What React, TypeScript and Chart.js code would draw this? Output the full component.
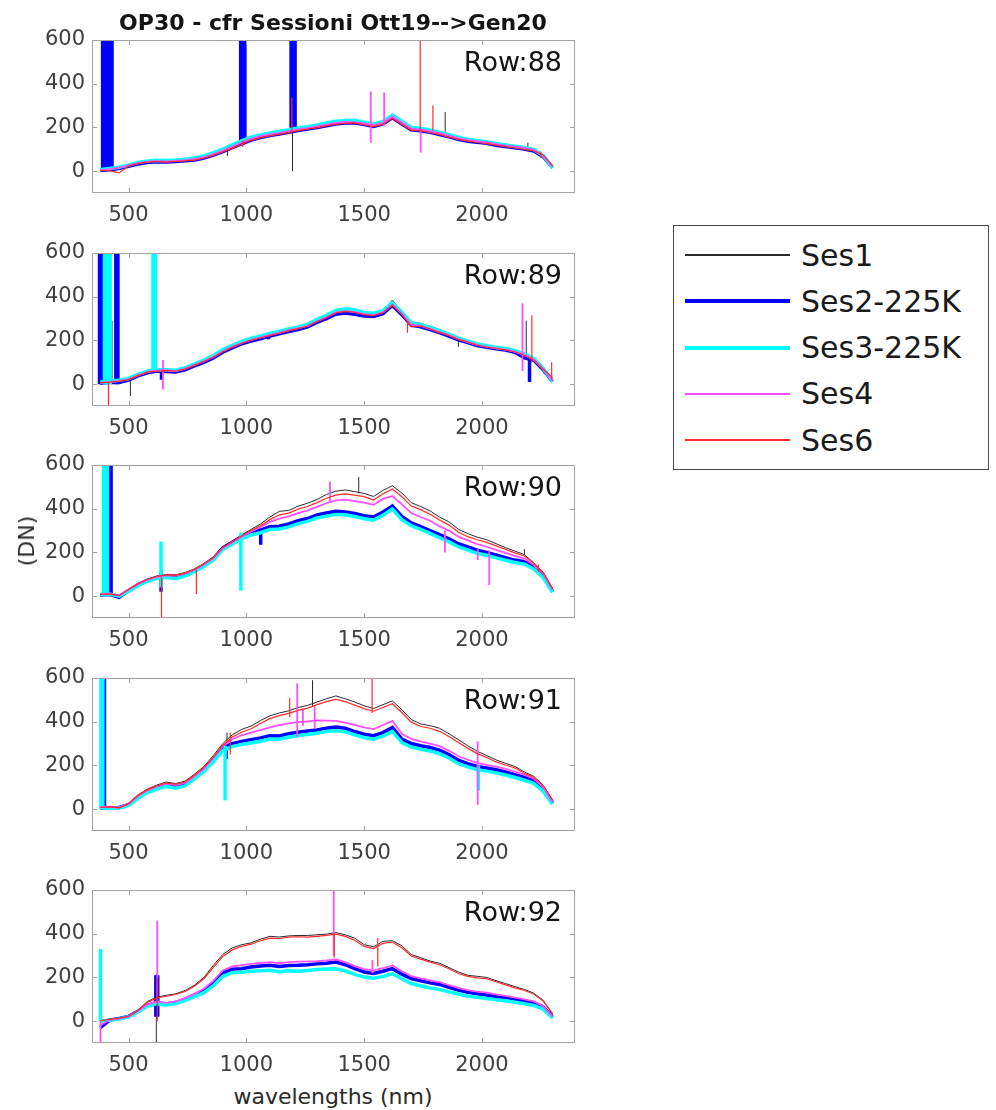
import React, { useEffect, useRef } from "react";
import { Chart, registerables } from "chart.js";

Chart.register(...registerables);

// ---------- data ----------
const WAVELENGTHS = [
  380, 420, 460, 500, 540, 580, 620, 660, 700, 740, 780, 820, 860, 900, 940, 980, 1020, 1060, 1100, 1140,
  1180, 1220, 1260, 1300, 1340, 1380, 1420, 1460, 1500, 1540, 1580, 1620, 1660, 1700, 1740, 1780, 1820, 1860,
  1900, 1940, 1980, 2020, 2060, 2100, 2140, 2180, 2220, 2260, 2300,
];
const SERIES_NAMES = ["Ses1", "Ses2-225K", "Ses3-225K", "Ses4", "Ses6"];
const ROW_LABELS = ["Row:88", "Row:89", "Row:90", "Row:91", "Row:92"];
const X_TICKS = [500, 1000, 1500, 2000];
const Y_TICKS = [0, 200, 400, 600];
const X_MIN = 345;
const X_MAX = 2395;
const Y_MIN = -100;
const Y_MAX = 600;
const TITLE = "OP30 - cfr Sessioni Ott19-->Gen20";
const X_LABEL = "wavelengths (nm)";
const Y_LABEL = "(DN)";

// Row 88
const R88_SES1 = [6, 10, 14, 24, 36, 42, 45, 43, 46, 49, 53, 63, 76, 92, 110, 128, 146, 157, 166, 172, 181, 189, 195, 203, 211, 219, 223, 225, 217, 208, 219, 248, 220, 193, 189, 181, 172, 160, 149, 140, 135, 130, 121, 116, 110, 104, 95, 70, 20];
const R88_SES2 = [4, 8, 12, 22, 33, 40, 43, 42, 44, 47, 51, 60, 73, 89, 107, 125, 142, 154, 163, 170, 178, 186, 193, 200, 208, 216, 220, 221, 213, 205, 216, 244, 216, 189, 185, 178, 168, 157, 146, 137, 132, 127, 118, 113, 107, 101, 92, 66, 16];
const R88_SES3 = [8, 12, 18, 28, 40, 47, 50, 49, 51, 55, 60, 71, 85, 101, 120, 138, 155, 166, 175, 181, 189, 197, 203, 211, 220, 228, 232, 233, 224, 215, 227, 256, 228, 200, 196, 188, 178, 167, 155, 146, 140, 135, 126, 120, 114, 108, 99, 72, 15];
const R88_SES4 = [5, 9, 16, 26, 37, 44, 46, 45, 47, 50, 55, 64, 78, 94, 112, 131, 148, 160, 168, 175, 183, 191, 197, 205, 213, 221, 225, 224, 218, 210, 222, 250, 222, 194, 190, 183, 174, 162, 151, 142, 137, 131, 123, 117, 112, 106, 97, 71, 19];
const R88_SES6 = [3, 2, -8, 23, 34, 41, 44, 41, 45, 47, 50, 59, 72, 88, 104, 122, 141, 152, 161, 168, 176, 185, 192, 198, 207, 214, 219, 221, 212, 204, 214, 242, 214, 188, 184, 176, 167, 156, 145, 137, 131, 126, 119, 112, 106, 100, 92, 74, 24];
// spikes: [series index, wavelength, low, high]
const R88_SPIKES = [
  [1, 390, 0, 800], [1, 398, 0, 800], [1, 406, 0, 800], [1, 414, 0, 800], [1, 422, 0, 800], [1, 430, 0, 800],
  [1, 976, 140, 800], [1, 985, 140, 800], [1, 994, 140, 800],
  [1, 1190, 185, 800], [1, 1199, 185, 800], [1, 1207, 185, 800],
  [0, 1196, 0, 205], [4, 1193, 185, 335], [0, 920, 70, 100], [4, 985, 110, 140],
  [3, 1528, 130, 365], [3, 1585, 205, 360], [4, 1738, 190, 800], [3, 1740, 85, 200],
  [4, 1792, 185, 300], [0, 1844, 180, 270], [0, 2195, 95, 130], [4, 2250, 60, 90],
];

// Row 89
const R89_SES1 = [8, 12, 14, 20, 42, 56, 64, 63, 60, 72, 90, 106, 127, 152, 174, 190, 205, 214, 228, 236, 250, 258, 270, 292, 310, 333, 340, 336, 325, 322, 334, 385, 330, 285, 278, 264, 250, 232, 212, 200, 186, 178, 170, 164, 155, 140, 118, 72, 14];
const R89_SES2 = [5, 8, 8, 18, 38, 52, 60, 58, 56, 66, 84, 100, 120, 146, 166, 184, 197, 208, 220, 230, 241, 250, 262, 282, 300, 320, 325, 320, 312, 310, 322, 360, 318, 270, 262, 250, 236, 220, 203, 190, 177, 169, 162, 156, 146, 120, 110, 66, 12];
const R89_SES3 = [10, 14, 18, 26, 45, 60, 66, 66, 64, 75, 93, 110, 131, 158, 178, 196, 209, 220, 232, 242, 253, 262, 274, 296, 315, 337, 344, 340, 328, 325, 336, 372, 330, 280, 272, 260, 245, 229, 212, 197, 184, 176, 168, 163, 153, 138, 118, 72, 13];
const R89_SES4 = [7, 10, 15, 22, 40, 56, 62, 64, 60, 71, 88, 105, 124, 150, 171, 188, 202, 214, 225, 235, 247, 256, 266, 288, 306, 328, 334, 330, 320, 316, 328, 364, 322, 272, 266, 253, 238, 224, 206, 192, 180, 171, 164, 158, 149, 134, 112, 70, 16];
const R89_SES6 = [6, 9, 13, 21, 39, 54, 60, 62, 59, 69, 86, 103, 122, 148, 168, 186, 200, 211, 222, 233, 244, 254, 265, 286, 304, 326, 333, 329, 318, 314, 327, 362, 320, 262, 266, 252, 237, 222, 205, 192, 178, 170, 163, 157, 147, 132, 110, 68, 30];
const R89_SPIKES = [
  [1, 377, 0, 800], [1, 386, 0, 800], [2, 398, 0, 800], [2, 406, 0, 800], [2, 414, 0, 800], [2, 422, 0, 800],
  [1, 446, 0, 800], [1, 455, 0, 800], [2, 604, 60, 800], [2, 614, 60, 800],
  [4, 415, -110, 10], [0, 430, 0, 290], [0, 508, -55, 20], [3, 646, -25, 110], [1, 640, 20, 60],
  [1, 1094, 205, 230], [4, 1684, 235, 290], [0, 1900, 170, 215],
  [3, 2172, 60, 370], [0, 2188, 140, 290], [1, 2202, 10, 130], [4, 2212, 100, 315], [4, 2296, 20, 100],
];

// Row 90
const R90_SES1 = [10, 12, 5, 32, 58, 78, 92, 99, 98, 108, 125, 150, 180, 228, 252, 280, 305, 330, 362, 388, 392, 412, 425, 442, 465, 480, 486, 478, 470, 456, 484, 505, 472, 428, 410, 390, 362, 340, 306, 286, 270, 258, 240, 222, 206, 190, 152, 110, 35];
const R90_SES2 = [5, 8, -5, 25, 52, 72, 85, 90, 82, 95, 115, 140, 170, 220, 245, 272, 290, 302, 318, 320, 330, 345, 355, 372, 380, 388, 385, 378, 368, 362, 385, 412, 365, 335, 318, 300, 282, 262, 240, 225, 210, 200, 188, 176, 165, 158, 135, 95, 22];
const R90_SES3 = [8, 10, 0, 22, 48, 68, 82, 86, 80, 92, 112, 136, 166, 214, 238, 262, 280, 290, 305, 307, 317, 332, 342, 358, 366, 374, 372, 364, 354, 348, 370, 398, 350, 322, 305, 287, 268, 248, 226, 211, 196, 187, 175, 164, 154, 146, 124, 85, 18];
const R90_SES4 = [9, 11, 4, 30, 55, 75, 88, 95, 94, 104, 120, 145, 174, 220, 246, 272, 296, 316, 340, 355, 365, 380, 392, 408, 425, 438, 442, 435, 428, 418, 445, 458, 420, 380, 362, 345, 320, 300, 272, 255, 238, 226, 212, 198, 184, 172, 142, 102, 30];
const R90_SES6 = [8, 10, 2, 30, 56, 76, 90, 97, 95, 105, 122, 146, 176, 222, 248, 275, 300, 322, 350, 372, 380, 398, 410, 428, 448, 462, 468, 462, 455, 440, 468, 490, 455, 412, 396, 375, 348, 325, 292, 272, 258, 246, 230, 214, 198, 184, 150, 106, 33];
const R90_SPIKES = [
  [2, 394, 0, 800], [2, 402, 0, 800], [2, 410, 0, 800], [1, 418, 0, 800], [1, 426, 0, 800],
  [2, 638, 40, 250], [1, 638, 20, 110], [4, 640, -110, 90],
  [4, 788, 10, 120], [2, 977, 25, 290], [0, 975, 100, 290], [1, 1061, 235, 310],
  [3, 1355, 430, 525], [0, 1477, 470, 545], [3, 1843, 200, 300], [3, 1982, 165, 215], [3, 2031, 50, 210],
  [0, 2180, 190, 215], [4, 2240, 110, 145],
];

// Row 91
const R91_SES1 = [10, 12, 8, 26, 65, 92, 110, 124, 117, 128, 160, 195, 245, 300, 340, 365, 380, 405, 427, 440, 450, 465, 475, 490, 505, 518, 505, 490, 473, 460, 478, 495, 455, 410, 390, 382, 370, 345, 318, 290, 265, 245, 225, 210, 195, 170, 150, 110, 40];
const R91_SES2 = [5, 5, 8, 20, 55, 82, 98, 110, 102, 112, 145, 180, 228, 280, 300, 310, 318, 326, 336, 335, 345, 352, 357, 362, 370, 376, 370, 355, 343, 336, 350, 374, 320, 300, 290, 282, 270, 250, 224, 208, 195, 188, 180, 170, 158, 145, 130, 92, 28];
const R91_SES3 = [6, 4, 5, 17, 50, 76, 92, 104, 96, 106, 138, 172, 218, 268, 286, 296, 303, 311, 321, 320, 330, 336, 342, 347, 355, 359, 354, 340, 327, 320, 334, 356, 304, 284, 274, 266, 254, 234, 208, 193, 180, 174, 166, 156, 145, 132, 118, 82, 22];
const R91_SES4 = [9, 11, 7, 24, 60, 86, 104, 116, 110, 120, 150, 185, 235, 288, 320, 338, 350, 362, 374, 384, 392, 398, 402, 406, 405, 404, 396, 385, 374, 366, 385, 404, 345, 321, 310, 300, 288, 268, 242, 226, 212, 202, 194, 184, 172, 158, 140, 100, 32];
const R91_SES6 = [8, 10, 6, 24, 62, 88, 106, 120, 114, 124, 155, 190, 238, 292, 330, 352, 368, 392, 414, 428, 438, 452, 462, 478, 492, 502, 492, 476, 460, 448, 465, 482, 442, 398, 378, 370, 356, 332, 305, 278, 254, 236, 216, 202, 188, 164, 146, 108, 42];
const R91_SPIKES = [
  [2, 383, 0, 800], [2, 391, 0, 800], [1, 398, 0, 800],
  [2, 910, 40, 290], [1, 914, 230, 300], [0, 918, 280, 350], [4, 932, 250, 350],
  [4, 1184, 420, 510], [3, 1216, 330, 575], [3, 1240, 380, 460], [0, 1281, 470, 590], [3, 1290, 370, 470],
  [4, 1534, 440, 800], [3, 1982, 20, 310], [2, 1985, 85, 200],
];

// Row 92
const R92_SES1 = [0, 10, 15, 23, 50, 90, 110, 118, 125, 140, 165, 200, 255, 305, 335, 350, 358, 375, 388, 385, 390, 392, 392, 395, 398, 405, 395, 380, 350, 340, 365, 368, 345, 305, 290, 275, 265, 245, 225, 210, 205, 200, 185, 172, 158, 145, 128, 95, 30];
const R92_SES2 = [-30, 5, 12, 22, 45, 72, 85, 78, 85, 100, 120, 140, 175, 220, 238, 240, 248, 252, 256, 250, 255, 256, 258, 262, 265, 270, 258, 240, 225, 218, 228, 240, 215, 195, 185, 175, 168, 155, 142, 132, 125, 120, 112, 108, 100, 93, 85, 65, 18];
const R92_SES3 = [0, 4, 10, 20, 42, 68, 80, 74, 80, 94, 112, 130, 162, 205, 222, 224, 228, 230, 233, 226, 230, 228, 232, 236, 238, 240, 230, 214, 202, 196, 204, 217, 194, 172, 162, 152, 145, 134, 124, 114, 109, 104, 98, 93, 86, 80, 72, 55, 14];
const R92_SES4 = [-20, 6, 12, 22, 46, 76, 90, 84, 90, 105, 125, 148, 184, 232, 250, 256, 262, 266, 270, 265, 270, 272, 273, 275, 278, 282, 270, 252, 238, 232, 242, 255, 228, 206, 196, 186, 178, 165, 152, 142, 135, 130, 122, 116, 108, 100, 90, 68, 20];
const R92_SES6 = [2, 8, 14, 22, 48, 86, 106, 114, 122, 136, 160, 194, 246, 296, 326, 342, 352, 368, 380, 378, 384, 386, 384, 388, 392, 398, 388, 370, 342, 332, 356, 362, 336, 298, 284, 270, 258, 240, 218, 205, 198, 194, 180, 166, 152, 140, 124, 92, 34];
const R92_SPIKES = [
  [2, 381, 0, 330], [3, 381, -110, 0],
  [1, 616, 20, 210], [1, 624, 20, 210], [0, 618, -110, 215], [4, 622, 0, 200], [3, 622, 80, 460],
  [3, 1371, 300, 800], [4, 1373, 290, 400], [3, 1535, 220, 280], [4, 1558, 250, 380],
];

const PANEL_SERIES = [
  [R88_SES1, R88_SES2, R88_SES3, R88_SES4, R88_SES6],
  [R89_SES1, R89_SES2, R89_SES3, R89_SES4, R89_SES6],
  [R90_SES1, R90_SES2, R90_SES3, R90_SES4, R90_SES6],
  [R91_SES1, R91_SES2, R91_SES3, R91_SES4, R91_SES6],
  [R92_SES1, R92_SES2, R92_SES3, R92_SES4, R92_SES6],
];
const PANEL_SPIKES = [R88_SPIKES, R89_SPIKES, R90_SPIKES, R91_SPIKES, R92_SPIKES];

// ---------- styles / layout ----------
const SERIES_STYLE = [
  { color: "#2b2b2b", width: 1 },
  { color: "#0000ff", width: 3.5 },
  { color: "#00ffff", width: 3.5 },
  { color: "#ff4dff", width: 1.8 },
  { color: "#ff2a2a", width: 1.2 },
];
const LEGEND_WIDTHS = [1.3, 4, 4, 2.5, 1.5];
const FONT = '"DejaVu Sans", sans-serif';
const PANEL_TOPS = [40, 253, 465, 678, 890];
const PANEL_H = 153;
const CANVAS_W = 600;
const PAD_TOP = 20;
const XAXIS_H = 40;
const YAXIS_W = 92;
const PAD_RIGHT = 25;

const boxPlugin = {
  id: "matlabBox",
  afterDatasetsDraw(chart: any, _args: any, opts: any) {
    const { ctx, chartArea: a, scales } = chart;
    ctx.save();
    ctx.strokeStyle = "#a3a3a3";
    ctx.lineWidth = 1;
    ctx.strokeRect(a.left + 0.5, a.top + 0.5, a.right - a.left - 1, a.bottom - a.top - 1);
    ctx.beginPath();
    X_TICKS.forEach((v) => {
      const px = Math.round(scales.x.getPixelForValue(v)) + 0.5;
      ctx.moveTo(px, a.bottom);
      ctx.lineTo(px, a.bottom - 5);
      ctx.moveTo(px, a.top);
      ctx.lineTo(px, a.top + 5);
    });
    Y_TICKS.forEach((v) => {
      const py = Math.round(scales.y.getPixelForValue(v)) + 0.5;
      ctx.moveTo(a.left, py);
      ctx.lineTo(a.left + 5, py);
      ctx.moveTo(a.right, py);
      ctx.lineTo(a.right - 5, py);
    });
    ctx.stroke();
    ctx.font = `27px ${FONT}`;
    ctx.fillStyle = "#141414";
    ctx.textAlign = "right";
    ctx.textBaseline = "alphabetic";
    ctx.fillText(opts.text, a.right - 13, a.top + 31);
    ctx.restore();
  },
};

function buildDatasets(series: number[][], spikes: number[][]) {
  const ds: any[] = [];
  series.forEach((vals, s) => {
    ds.push({
      label: SERIES_NAMES[s],
      data: WAVELENGTHS.map((w, i) => ({ x: w, y: vals[i] })),
      borderColor: SERIES_STYLE[s].color,
      borderWidth: SERIES_STYLE[s].width,
      pointRadius: 0,
      fill: false,
      tension: 0,
      order: 5 - s,
    });
  });
  spikes.forEach(([s, w, lo, hi]) => {
    ds.push({
      label: SERIES_NAMES[s],
      data: [
        { x: w, y: lo },
        { x: w, y: hi },
      ],
      borderColor: SERIES_STYLE[s].color,
      borderWidth: SERIES_STYLE[s].width,
      pointRadius: 0,
      fill: false,
      order: 5 - s,
    });
  });
  return ds;
}

function makeConfig(p: number): any {
  const tickFont = { family: FONT, size: 21 };
  return {
    type: "line",
    data: { datasets: buildDatasets(PANEL_SERIES[p], PANEL_SPIKES[p]) },
    options: {
      animation: false,
      responsive: false,
      devicePixelRatio: 1,
      layout: { padding: { top: PAD_TOP, right: PAD_RIGHT, bottom: 0, left: 0 } },
      plugins: {
        legend: { display: false },
        tooltip: { enabled: false },
        matlabBox: { text: ROW_LABELS[p] },
      },
      scales: {
        x: {
          type: "linear",
          min: X_MIN,
          max: X_MAX,
          grid: { display: false, drawTicks: false },
          border: { display: false },
          afterBuildTicks: (s: any) => {
            s.ticks = X_TICKS.map((v) => ({ value: v }));
          },
          afterFit: (s: any) => {
            s.height = XAXIS_H;
          },
          ticks: {
            font: tickFont,
            color: "#404040",
            padding: 10,
            maxRotation: 0,
            autoSkip: false,
            callback: (v: any) => String(v),
          },
        },
        y: {
          type: "linear",
          min: Y_MIN,
          max: Y_MAX,
          grid: { display: false, drawTicks: false },
          border: { display: false },
          afterBuildTicks: (s: any) => {
            s.ticks = Y_TICKS.map((v) => ({ value: v }));
          },
          afterFit: (s: any) => {
            s.width = YAXIS_W;
          },
          ticks: { font: tickFont, color: "#404040", padding: 7, autoSkip: false, callback: (v: any) => String(v) },
        },
      },
    },
    plugins: [boxPlugin],
  };
}

export default function App() {
  const refs = useRef<(HTMLCanvasElement | null)[]>([]);
  useEffect(() => {
    const charts = PANEL_TOPS.map((_, i) => new Chart(refs.current[i] as HTMLCanvasElement, makeConfig(i)));
    return () => charts.forEach((c) => c.destroy());
  }, []);

  const canvasH = PAD_TOP + PANEL_H + XAXIS_H;
  const legendRowY = (i: number) => 255 + 46.25 * i;

  return (
    <div style={{ position: "absolute", left: 0, top: 0, width: 996, height: 1110, fontFamily: FONT, color: "#141414" }}>
      {PANEL_TOPS.map((t, i) => (
        <canvas
          key={i}
          ref={(el) => {
            refs.current[i] = el;
          }}
          width={CANVAS_W}
          height={canvasH}
          style={{ position: "absolute", left: 0, top: t - PAD_TOP, width: CANVAS_W, height: canvasH }}
        />
      ))}
      <div
        style={{
          position: "absolute",
          left: 333,
          top: 31 - 0.846 * 22,
          transform: "translateX(-50%)",
          fontSize: 22,
          lineHeight: 1,
          fontWeight: "bold",
          whiteSpace: "nowrap",
        }}
      >
        {TITLE}
      </div>
      <div
        style={{
          position: "absolute",
          left: 333,
          top: 1105 - 0.846 * 22,
          transform: "translateX(-50%)",
          fontSize: 22,
          lineHeight: 1,
          whiteSpace: "nowrap",
          color: "#2a2a2a",
        }}
      >
        {X_LABEL}
      </div>
      <div
        style={{
          position: "absolute",
          left: 27,
          top: 541,
          transform: "translate(-50%, -50%) rotate(-90deg)",
          fontSize: 22,
          lineHeight: 1,
          whiteSpace: "nowrap",
          color: "#2a2a2a",
        }}
      >
        {Y_LABEL}
      </div>
      <div
        style={{
          position: "absolute",
          left: 673,
          top: 225,
          width: 316,
          height: 245,
          border: "1px solid #4a4a4a",
          boxSizing: "border-box",
          background: "#fff",
        }}
      />
      {SERIES_NAMES.map((name, i) => (
        <React.Fragment key={name}>
          <div
            style={{
              position: "absolute",
              left: 685,
              top: legendRowY(i) - LEGEND_WIDTHS[i] / 2,
              width: 105,
              height: LEGEND_WIDTHS[i],
              background: SERIES_STYLE[i].color,
            }}
          />
          <div
            style={{
              position: "absolute",
              left: 801,
              top: legendRowY(i) - 14.5,
              fontSize: 30,
              lineHeight: 1,
              whiteSpace: "nowrap",
              color: "#1a1a1a",
            }}
          >
            {name}
          </div>
        </React.Fragment>
      ))}
    </div>
  );
}
